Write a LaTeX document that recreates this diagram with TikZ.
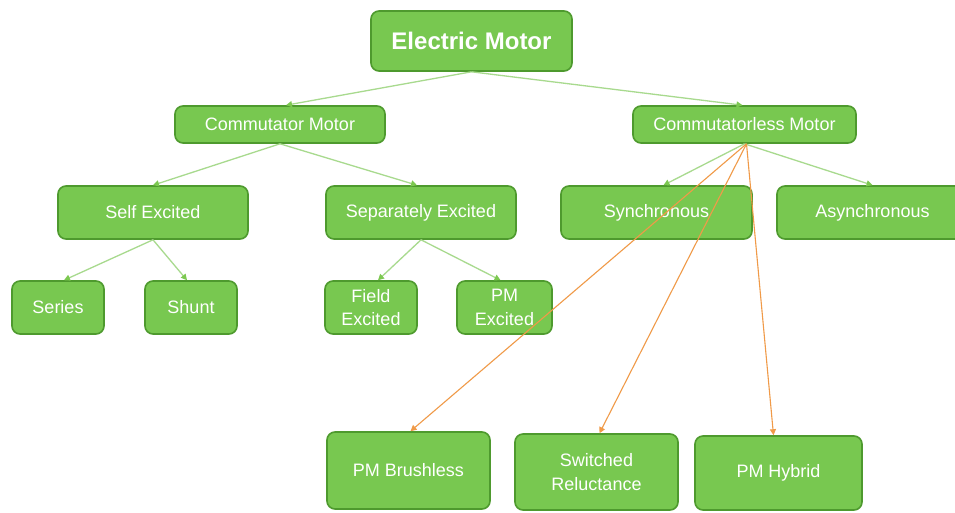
\documentclass[tikz,border=0pt]{standalone}
\usepackage{fontspec}
\setmainfont{Liberation Sans}
\usetikzlibrary{arrows.meta}
\definecolor{boxfill}{HTML}{78C850}
\definecolor{boxdraw}{HTML}{4E9A2E}
\definecolor{glink}{HTML}{A8DA8E}
\definecolor{ghead}{HTML}{7CC850}
\definecolor{olink}{HTML}{F09A48}
\tikzset{
  mbox/.style={draw=boxdraw, line width=1.6pt, fill=boxfill, rounded corners=8pt,
    text=white, font=\fontsize{18}{23.5}\selectfont, align=center, inner sep=0pt},
  glinkstyle/.style={draw=glink, line width=1.3pt, -{Triangle[length=6pt,width=6pt,color=ghead]}},
  olinkstyle/.style={draw=olink, line width=1.1pt, -{Triangle[length=6pt,width=6pt]}}
}
\begin{document}
\begin{tikzpicture}[x=1pt,y=-1pt]
\clip (0,0) rectangle (955,512);
\fill[white] (0,0) rectangle (955,512);
% nodes
\node[mbox, minimum width=201pt, minimum height=60pt, font=\fontsize{24}{28}\selectfont\bfseries] (em) at (471.5,41) {Electric Motor};
\node[mbox, minimum width=210pt, minimum height=37pt] (cm) at (280,124.5) {Commutator Motor};
\node[mbox, minimum width=223pt, minimum height=37pt] (cl) at (744.5,124.5) {Commutatorless Motor};
\node[mbox, minimum width=190pt, minimum height=53pt] (se) at (153,212.5) {Self Excited};
\node[mbox, minimum width=190pt, minimum height=53pt] (sep) at (421,212.5) {Separately Excited};
\node[mbox, minimum width=191pt, minimum height=53pt] (syn) at (656.5,212.5) {Synchronous};
\node[mbox, minimum width=191pt, minimum height=53pt] (asy) at (872.5,212.5) {Asynchronous};
\node[mbox, minimum width=92pt, minimum height=53pt] (series) at (58,307.5) {Series};
\node[mbox, minimum width=92pt, minimum height=53pt] (shunt) at (191,307.5) {Shunt};
\node[mbox, minimum width=92pt, minimum height=53pt] (fe) at (371,307.5) {Field\\Excited};
\node[mbox, minimum width=95pt, minimum height=53pt] (pme) at (504.5,307.5) {PM\\Excited};
\node[mbox, minimum width=163pt, minimum height=77pt] (pmb) at (408.5,470.5) {PM Brushless};
\node[mbox, minimum width=163pt, minimum height=76pt] (sr) at (596.5,472) {Switched\\Reluctance};
\node[mbox, minimum width=167pt, minimum height=74pt] (pmh) at (778.5,473) {PM Hybrid};
% green connectors
\draw[glinkstyle] (em.south) -- ([xshift=6pt]cm.north);
\draw[glinkstyle] (em.south) -- ([xshift=-2pt]cl.north);
\draw[glinkstyle] (cm.south) -- (se.north);
\draw[glinkstyle] (cm.south) -- ([xshift=-4pt]sep.north);
\draw[glinkstyle] (cl.south) -- ([xshift=7pt]syn.north);
\draw[glinkstyle] (cl.south) -- (asy.north);
\draw[glinkstyle] (se.south) -- ([xshift=6pt]series.north);
\draw[glinkstyle] (se.south) -- ([xshift=-4pt]shunt.north);
\draw[glinkstyle] (sep.south) -- ([xshift=7pt]fe.north);
\draw[glinkstyle] (sep.south) -- ([xshift=-4pt]pme.north);
% orange connectors
\draw[olinkstyle] ([xshift=2pt]cl.south) -- ([xshift=2pt]pmb.north);
\draw[olinkstyle] ([xshift=2pt]cl.south) -- ([xshift=3pt]sr.north);
\draw[olinkstyle] ([xshift=2pt]cl.south) -- ([xshift=-5pt]pmh.north);
\end{tikzpicture}
\end{document}
